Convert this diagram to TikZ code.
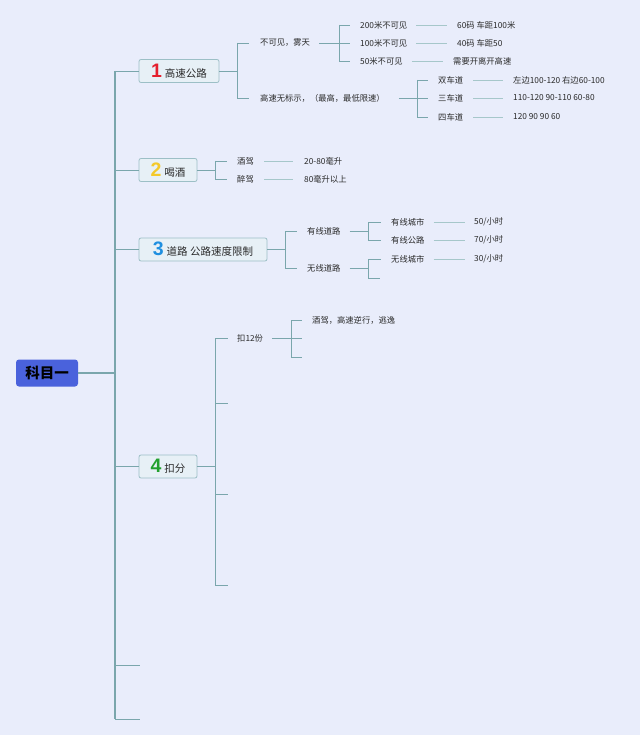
\documentclass[tikz,border=0pt]{standalone}
\usepackage{fontspec}
\setmainfont{Noto Sans CJK SC}
\newfontfamily\numfont{Liberation Sans}
\definecolor{bg}{HTML}{E9EDFB}
\definecolor{connc}{HTML}{7AA6AC}
\definecolor{leafc}{HTML}{A6C7CA}
\definecolor{txt}{HTML}{2A2A2A}
\definecolor{rootfill}{HTML}{4A62DC}
\definecolor{boxfill}{HTML}{E7F0F6}
\definecolor{boxdraw}{HTML}{9CBFC6}
\definecolor{n1}{HTML}{E4202E}
\definecolor{n2}{HTML}{F4C92A}
\definecolor{n3}{HTML}{1E8FE0}
\definecolor{n4}{HTML}{22A02E}
\newcommand\brnum[2]{{\numfont\fontsize{19.5}{19.5}\selectfont\bfseries\color{#1}#2}\hspace{3pt}}
\begin{document}
\begin{tikzpicture}[x=1pt,y=-1pt,
  rootbox/.style={fill=rootfill, rounded corners=3pt, minimum width=62pt, minimum height=27pt, inner sep=0pt, font=\fontsize{14.5}{16}\selectfont\bfseries, text=black},
  bbox/.style={fill=boxfill, draw=boxdraw, line width=0.8pt, rounded corners=2pt, minimum height=23pt, inner sep=0pt, font=\fontsize{10.5}{12}\selectfont, text=txt},
  leaf/.style={anchor=west, inner sep=0pt, font=\fontsize{8.3}{10}\selectfont, text=txt},
  conn/.style={draw=connc, line width=0.9pt},
  spine/.style={draw=connc, line width=1.2pt},
  vline/.style={draw=leafc, line width=0.8pt}
]
\fill[bg] (0,0) rectangle (640,735);
\useasboundingbox (0,0) rectangle (640,735);

% root and spine
\node[rootbox] (root) at (47,373) {科目一};
\coordinate (sp0) at (115,373);
\coordinate (sp1) at (115,71);
\coordinate (sp6) at (115,719);
\coordinate (e5) at (140,665);
\coordinate (e6) at (140,719);
\draw[spine] (root.east) -- (sp0);
\draw[spine] (sp1) -- (sp6);

% branch boxes
\node[bbox, minimum width=80pt] (b1) at (179,71) {\brnum{n1}{1}高速公路};
\node[bbox, minimum width=58pt] (b2) at (168,170) {\brnum{n2}{2}喝酒};
\node[bbox, minimum width=128pt] (b3) at (203,249.5) {\brnum{n3}{3}道路 公路速度限制};
\node[bbox, minimum width=58pt] (b4) at (168,466.5) {\brnum{n4}{4}扣分};
\draw[conn] (sp1 |- b1.west) -- (b1.west);
\draw[conn] (sp1 |- b2.west) -- (b2.west);
\draw[conn] (sp1 |- b3.west) -- (b3.west);
\draw[conn] (sp1 |- b4.west) -- (b4.west);
\draw[conn] (sp1 |- e5) -- (e5);
\draw[conn] (sp1 |- e6) -- (e6);

% ---- branch 1
\coordinate (j1) at (237,71);
\node[leaf] (t11) at (260,43) {不可见，雾天};
\node[leaf] (t12) at (260,98) {高速无标示，（最高，最低限速）};
\draw[conn] (b1.east) -- (j1);
\draw[conn] (j1 |- t11.west) -- (j1 |- t12.west);
\draw[conn] (j1 |- t11.west) -- ([xshift=-11pt]t11.west);
\draw[conn] (j1 |- t12.west) -- ([xshift=-11pt]t12.west);

\coordinate (j11) at (339,43);
\node[leaf] (t111) at (360,25) {200米不可见};
\node[leaf] (t112) at (360,43) {100米不可见};
\node[leaf] (t113) at (360,61) {50米不可见};
\draw[conn] ([xshift=9pt]t11.east) -- ([xshift=-10pt]t112.west);
\draw[conn] (j11 |- t111.west) -- (j11 |- t113.west);
\draw[conn] (j11 |- t111.west) -- ([xshift=-10pt]t111.west);
\draw[conn] (j11 |- t113.west) -- ([xshift=-10pt]t113.west);
\node[leaf] (v111) at (457,25) {60码 车距100米};
\node[leaf] (v112) at (457,43) {40码 车距50};
\node[leaf] (v113) at (453,61) {需要开离开高速};
\draw[vline] ([xshift=9pt]t111.east) -- ([xshift=-10pt]v111.west);
\draw[vline] ([xshift=9pt]t112.east) -- ([xshift=-10pt]v112.west);
\draw[vline] ([xshift=9pt]t113.east) -- ([xshift=-10pt]v113.west);

\coordinate (j12) at (417,98);
\node[leaf] (t121) at (438,80) {双车道};
\node[leaf] (t122) at (438,98) {三车道};
\node[leaf] (t123) at (438,117) {四车道};
\draw[conn] ([xshift=14pt]t12.east) -- ([xshift=-10pt]t122.west);
\draw[conn] (j12 |- t121.west) -- (j12 |- t123.west);
\draw[conn] (j12 |- t121.west) -- ([xshift=-10pt]t121.west);
\draw[conn] (j12 |- t123.west) -- ([xshift=-10pt]t123.west);
\node[leaf] (v121) at (513,80) {左边100-120 右边60-100};
\node[leaf] (v122) at (513,98) {110-120 90-110 60-80};
\node[leaf] (v123) at (513,117) {120 90 90 60};
\draw[vline] ([xshift=10pt]t121.east) -- ([xshift=-10pt]v121.west);
\draw[vline] ([xshift=10pt]t122.east) -- ([xshift=-10pt]v122.west);
\draw[vline] ([xshift=10pt]t123.east) -- ([xshift=-10pt]v123.west);

% ---- branch 2
\coordinate (j2) at (215,170);
\node[leaf] (t21) at (237,161) {酒驾};
\node[leaf] (t22) at (237,179) {醉驾};
\draw[conn] (b2.east) -- (j2);
\draw[conn] (j2 |- t21.west) -- (j2 |- t22.west);
\draw[conn] (j2 |- t21.west) -- ([xshift=-10pt]t21.west);
\draw[conn] (j2 |- t22.west) -- ([xshift=-10pt]t22.west);
\node[leaf] (v21) at (304,161) {20-80毫升};
\node[leaf] (v22) at (304,179) {80毫升以上};
\draw[vline] ([xshift=10pt]t21.east) -- ([xshift=-11pt]v21.west);
\draw[vline] ([xshift=10pt]t22.east) -- ([xshift=-11pt]v22.west);

% ---- branch 3
\coordinate (j3) at (285,249.5);
\node[leaf] (t31) at (307,231) {有线道路};
\node[leaf] (t32) at (307,268) {无线道路};
\draw[conn] (b3.east) -- (j3);
\draw[conn] (j3 |- t31.west) -- (j3 |- t32.west);
\draw[conn] (j3 |- t31.west) -- ([xshift=-10pt]t31.west);
\draw[conn] (j3 |- t32.west) -- ([xshift=-10pt]t32.west);

\coordinate (j31) at (368,231);
\node[leaf] (t311) at (391,222) {有线城市};
\node[leaf] (t312) at (391,240) {有线公路};
\draw[conn] ([xshift=9pt]t31.east) -- (j31);
\draw[conn] (j31 |- t311.west) -- (j31 |- t312.west);
\draw[conn] (j31 |- t311.west) -- ([xshift=-10pt]t311.west);
\draw[conn] (j31 |- t312.west) -- ([xshift=-10pt]t312.west);
\node[leaf] (v311) at (474,222) {50/小时};
\node[leaf] (v312) at (474,240) {70/小时};
\draw[vline] ([xshift=9pt]t311.east) -- ([xshift=-9pt]v311.west);
\draw[vline] ([xshift=9pt]t312.east) -- ([xshift=-9pt]v312.west);

\coordinate (j32) at (368,268);
\node[leaf] (t321) at (391,259) {无线城市};
\coordinate (e322) at (380,278);
\draw[conn] ([xshift=9pt]t32.east) -- (j32);
\draw[conn] (j32 |- t321.west) -- (j32 |- e322);
\draw[conn] (j32 |- t321.west) -- ([xshift=-10pt]t321.west);
\draw[conn] (j32 |- e322) -- (e322);
\node[leaf] (v321) at (474,259) {30/小时};
\draw[vline] ([xshift=9pt]t321.east) -- ([xshift=-9pt]v321.west);

% ---- branch 4
\coordinate (j4) at (215,466.5);
\node[leaf] (t41) at (237,338.5) {扣12份};
\coordinate (e42) at (228,403);
\coordinate (e43) at (228,494);
\coordinate (e44) at (228,585);
\draw[conn] (b4.east) -- (j4);
\draw[conn] (j4 |- t41.west) -- (j4 |- e44);
\draw[conn] (j4 |- t41.west) -- ([xshift=-9pt]t41.west);
\draw[conn] (j4 |- e42) -- (e42);
\draw[conn] (j4 |- e43) -- (e43);
\draw[conn] (j4 |- e44) -- (e44);

\coordinate (j41) at (291,338.5);
\node[leaf] (t411) at (312,320) {酒驾，高速逆行，逃逸};
\coordinate (e412) at (302,338.5);
\coordinate (e413) at (302,357);
\draw[conn] ([xshift=9pt]t41.east) -- (e412);
\draw[conn] (j41 |- t411.west) -- (j41 |- e413);
\draw[conn] (j41 |- t411.west) -- ([xshift=-10pt]t411.west);
\draw[conn] (j41 |- e413) -- (e413);
\end{tikzpicture}
\end{document}
